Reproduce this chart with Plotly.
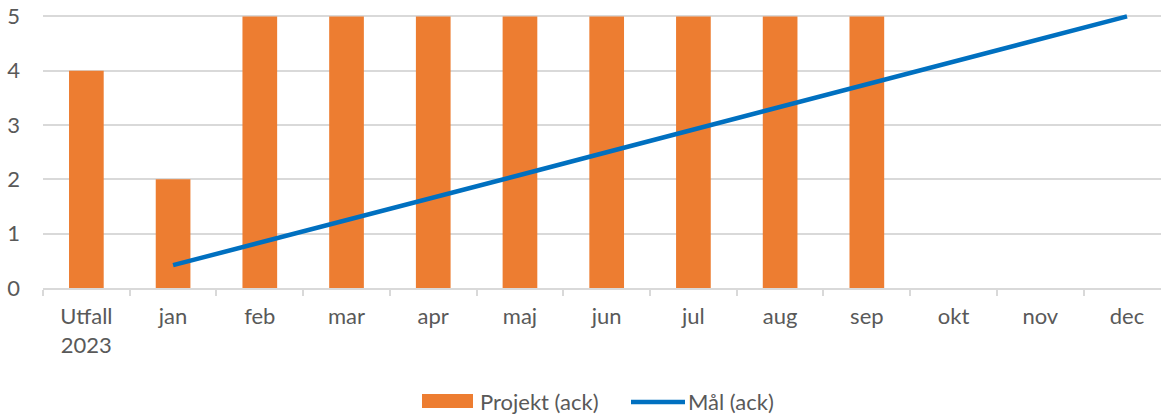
import plotly.graph_objects as go

categories = ["Utfall<br>2023", "jan", "feb", "mar", "apr", "maj", "jun", "jul", "aug", "sep", "okt", "nov", "dec"]
projekt_ack = [4, 2, 5, 5, 5, 5, 5, 5, 5, 5, None, None, None]
mal_ack = [None, 0.42, 0.83, 1.25, 1.67, 2.08, 2.5, 2.92, 3.33, 3.75, 4.17, 4.58, 5.0]
y_ticks = [0, 1, 2, 3, 4, 5]

ORANGE = "#ED7D31"
BLUE = "#0070C0"
GRID = "#D9D9D9"
TEXT = "#595959"
FONT = "Lato, Calibri, Carlito, sans-serif"
FS = 22

W, H = 1161, 414
L, R, T, B = 43, 0, 11, 126
pw, ph = W - L - R, H - T - B


def px(x):
    return (x - L) / pw


def py(y):
    return (H - B - y) / ph


fig = go.Figure()
fig.add_trace(go.Bar(x=categories, y=projekt_ack, name="Projekt (ack)",
                     marker=dict(color=ORANGE, line=dict(width=0)), width=0.4))
fig.add_trace(go.Scatter(x=categories, y=mal_ack, name="Mål (ack)", mode="lines",
                         line=dict(color=BLUE, width=4.5), connectgaps=False))

shapes = [
    dict(type="rect", xref="paper", yref="paper", x0=px(422), x1=px(473), y0=py(408), y1=py(394),
         fillcolor=ORANGE, line=dict(width=0)),
    dict(type="line", xref="paper", yref="paper", x0=px(631), x1=px(685), y0=py(402), y1=py(402),
         line=dict(color=BLUE, width=4.5)),
]
annotations = [
    dict(text="Projekt (ack)", xref="paper", yref="paper", x=px(478), y=py(401), xanchor="left",
         yanchor="middle", showarrow=False, font=dict(family=FONT, size=FS, color=TEXT)),
    dict(text="Mål (ack)", xref="paper", yref="paper", x=px(686), y=py(401), xanchor="left",
         yanchor="middle", showarrow=False, font=dict(family=FONT, size=FS, color=TEXT)),
]

fig.update_layout(
    width=W, height=H,
    margin=dict(l=L, r=R, t=T, b=B, pad=0, autoexpand=False),
    paper_bgcolor="white", plot_bgcolor="white",
    showlegend=False,
    font=dict(family=FONT, size=FS, color=TEXT),
    shapes=shapes, annotations=annotations,
    xaxis=dict(type="category", range=[-0.5, 12.392], showgrid=False, automargin=False,
               showline=True, linecolor=GRID, linewidth=1.5,
               ticks="outside", tickson="boundaries", ticklen=6, tickcolor=GRID, tickwidth=1.5,
               tickfont=dict(family=FONT, size=FS, color=TEXT), ticklabelstandoff=8,
               ticklabeloverflow="allow"),
    yaxis=dict(range=[0, 5.1], tickvals=y_ticks, showgrid=True, gridcolor=GRID, gridwidth=1.5,
               zeroline=False, showline=False, ticks="", automargin=False,
               tickfont=dict(family=FONT, size=FS, color=TEXT), ticklabelstandoff=22,
               ticklabeloverflow="allow"),
)

# remove the browser's default 8px body margin so the figure fills the window exactly
fig.write_html("out.html", config={"displayModeBar": False},
               post_script="document.body.style.margin='0';document.body.style.overflow='hidden';")
